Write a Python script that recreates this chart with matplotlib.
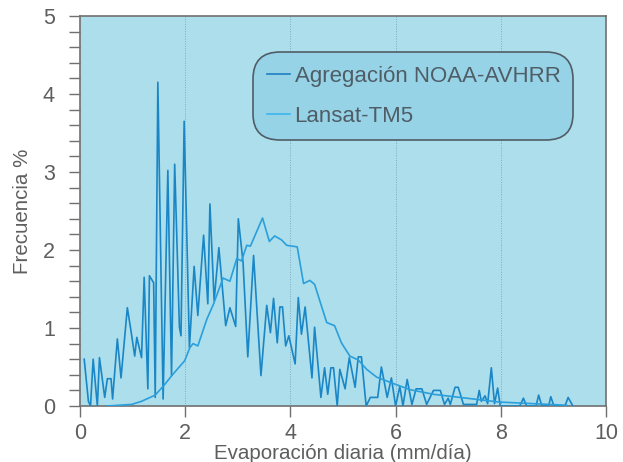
import matplotlib
matplotlib.use("Agg")
import matplotlib.pyplot as plt
from matplotlib.ticker import MultipleLocator

plt.rcParams['font.family'] = ['Liberation Sans', 'DejaVu Sans']

# NOAA-AVHRR aggregation (jagged series)
noaa_x = [0.08, 0.16, 0.20, 0.25, 0.33, 0.37, 0.47, 0.52, 0.59, 0.62, 0.71, 0.78,
          0.90, 0.97, 1.04, 1.08, 1.17, 1.22, 1.29, 1.32, 1.40, 1.43, 1.48, 1.58,
          1.67, 1.74, 1.80, 1.89, 1.92, 1.98, 2.08, 2.17, 2.24, 2.35, 2.43, 2.47,
          2.55, 2.64, 2.77, 2.85, 2.96, 3.01, 3.10, 3.19, 3.30, 3.44, 3.55, 3.62,
          3.68, 3.75, 3.80, 3.85, 3.91, 3.97, 4.09, 4.15, 4.21, 4.28, 4.41, 4.46,
          4.58, 4.65, 4.71, 4.77, 4.82, 4.89, 4.94, 5.04, 5.12, 5.23, 5.29, 5.35,
          5.44, 5.52, 5.66, 5.73, 5.84, 5.92, 6.00, 6.08, 6.14, 6.22, 6.31, 6.39,
          6.50, 6.59, 6.72, 6.85, 6.93, 7.00, 7.04, 7.13, 7.19, 7.29, 7.38, 7.54,
          7.59, 7.63, 7.70, 7.75, 7.82, 7.88, 7.94, 7.99, 8.36, 8.43, 8.49, 8.67,
          8.72, 8.78, 8.91, 8.95, 9.01, 9.22, 9.28, 9.37]
noaa_y = [0.60, 0.06, 0.00, 0.60, 0.00, 0.62, 0.11, 0.35, 0.35, 0.09, 0.86, 0.36,
          1.26, 0.96, 0.64, 0.88, 0.62, 1.65, 0.22, 1.67, 1.58, 0.11, 4.15, 0.09,
          3.02, 0.39, 3.10, 1.01, 0.90, 3.65, 0.75, 1.79, 1.16, 2.19, 1.31, 2.59,
          1.35, 2.03, 1.03, 1.26, 1.02, 2.40, 1.84, 0.63, 1.93, 0.39, 1.29, 0.94,
          1.38, 0.81, 1.27, 1.27, 0.77, 0.90, 0.54, 1.39, 0.92, 1.27, 0.36, 1.01,
          0.11, 0.49, 0.15, 0.49, 0.49, 0.00, 0.47, 0.22, 0.62, 0.24, 0.63, 0.63,
          0.00, 0.11, 0.11, 0.50, 0.11, 0.36, 0.00, 0.25, 0.00, 0.34, 0.02, 0.22,
          0.22, 0.02, 0.20, 0.20, 0.02, 0.10, 0.02, 0.24, 0.24, 0.02, 0.02, 0.02,
          0.20, 0.06, 0.13, 0.03, 0.49, 0.03, 0.23, 0.00, 0.00, 0.10, 0.00, 0.00,
          0.14, 0.00, 0.00, 0.12, 0.00, 0.00, 0.11, 0.00]

# Landsat-TM5 (smooth series)
landsat_x = [0.51, 0.98, 1.17, 1.43, 1.59, 1.77, 1.99, 2.09, 2.15, 2.24, 2.41, 2.54,
             2.72, 2.85, 2.98, 3.07, 3.17, 3.24, 3.47, 3.60, 3.70, 3.83, 3.93, 4.13,
             4.25, 4.37, 4.46, 4.69, 4.84, 4.97, 5.13, 5.29, 5.45, 5.64, 5.95, 6.27,
             6.72, 7.35, 7.98, 8.62, 9.25]
landsat_y = [0.00, 0.02, 0.06, 0.14, 0.26, 0.41, 0.58, 0.75, 0.80, 0.77, 1.11, 1.31,
             1.64, 1.60, 1.89, 1.86, 2.06, 2.05, 2.41, 2.11, 2.18, 2.13, 2.06, 2.04,
             1.57, 1.61, 1.56, 1.07, 1.03, 0.81, 0.64, 0.59, 0.47, 0.37, 0.29, 0.21,
             0.15, 0.10, 0.05, 0.03, 0.01]

series_labels = ["Agregación NOAA-AVHRR", "Lansat-TM5"]
x_ticks = [0, 2, 4, 6, 8, 10]
y_ticks = [0, 1, 2, 3, 4, 5]
x_label = "Evaporación diaria (mm/día)"
y_label = "Frecuencia %"

text_color = '#5e5e5e'
spine_color = '#707070'

fig = plt.figure(figsize=(6.23, 4.62), dpi=100)
fig.patch.set_facecolor('white')
ax = fig.add_axes([80/623, 1 - 406/462, 526/623, 390/462])
ax.set_facecolor('#acdeeb')

ax.plot(noaa_x, noaa_y, color='#1a86c6', lw=1.2, label=series_labels[0], zorder=3)
ax.plot(landsat_x, landsat_y, color='#2a9fdc', lw=1.2, label=series_labels[1], zorder=3)

ax.set_xlim(0, 10)
ax.set_ylim(0, 5)
ax.set_xticks(x_ticks)
ax.set_yticks(y_ticks)
ax.yaxis.set_minor_locator(MultipleLocator(0.2))
ax.tick_params(axis='both', which='both', direction='out', color=spine_color,
               width=1.0, labelcolor=text_color, labelsize=15.5)
ax.tick_params(axis='x', which='major', length=8, pad=4)
ax.tick_params(axis='y', which='both', length=8, pad=10)

for s in ax.spines.values():
    s.set_color(spine_color)
    s.set_linewidth(1.2)

for xv in x_ticks[1:-1]:
    ax.axvline(xv, color='#7ea9c2', lw=0.7, ls=(0, (1, 1.5)), zorder=1)

ax.set_xlabel(x_label, fontsize=14.8, color=text_color, labelpad=0)
ax.set_ylabel(y_label, fontsize=14.8, color=text_color, labelpad=8)

# legend box spans roughly axes x 0.329..0.937, top at 0.908
leg = ax.legend(loc='upper left', bbox_to_anchor=(0.329, 0.68, 0.608, 0.228),
                mode='expand', frameon=True,
                fontsize=16.0, handlelength=1.05, handletextpad=0.2,
                borderpad=0.62, labelspacing=0.85, borderaxespad=0)
frame = leg.get_frame()
frame.set_facecolor('#96d3e7')
frame.set_edgecolor('#4f5d66')
frame.set_linewidth(1.2)
frame.set_alpha(1)
frame.set_boxstyle('round', pad=0.0, rounding_size=1.2)
for t in leg.get_texts():
    t.set_color('#4f5d66')
leg.get_lines()[0].set_color('#1f7fc0')
leg.get_lines()[1].set_color('#3ab6ea')

fig.savefig('out.png', dpi=100, facecolor='white')
